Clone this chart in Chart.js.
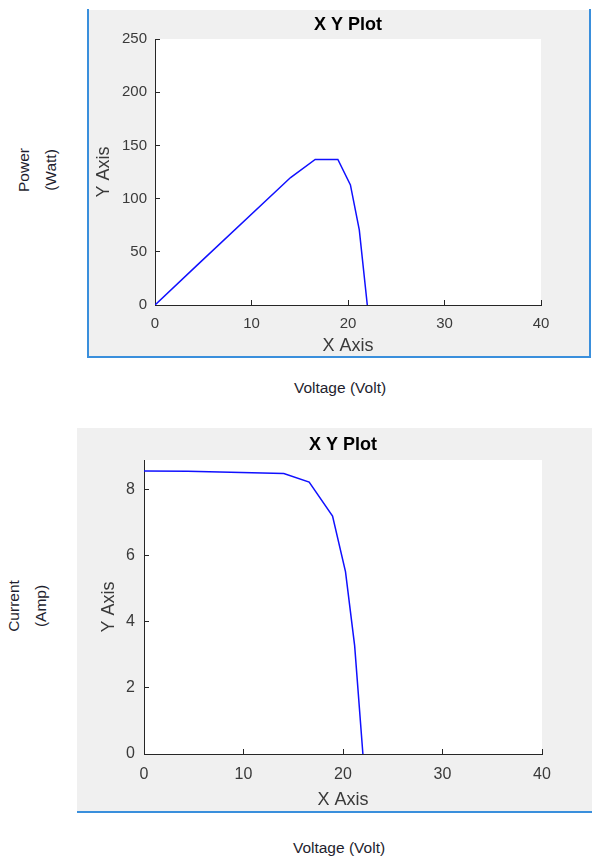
<!DOCTYPE html>
<html>
<head>
<meta charset="utf-8">
<script src="https://cdn.jsdelivr.net/npm/chart.js@4.4.0/dist/chart.umd.min.js"></script>
<style>
    body {
        margin: 0;
        background: #ffffff;
        width: 592px;
        height: 857px;
        position: relative;
        overflow: hidden;
        font-family: "Liberation Sans", Arial, sans-serif;
    }
    .panel {
        position: absolute;
        background: #f0f0f0;
    }
    .line {
        position: absolute;
        background: #3a8fdc;
    }
    .side {
        position: absolute;
        transform: translate(-50%, -50%) rotate(-90deg);
        text-align: center;
        font-size: 15.5px;
        line-height: 27px;
        color: #1e1e2e;
        white-space: nowrap;
    }
    .under {
        position: absolute;
        transform: translate(-50%, -50%);
        font-size: 15.5px;
        color: #1e1e2e;
        white-space: nowrap;
    }
</style>
</head>
<body>
    <div class="panel" style="left:88px; top:10px; width:502px; height:347px;">
        <canvas id="powerChart"></canvas>
    </div>
    <div class="line" style="left:87px; top:9px; width:2px; height:349px;"></div>
    <div class="line" style="left:589px; top:9px; width:2px; height:349px;"></div>
    <div class="line" style="left:87px; top:356px; width:504px; height:2px;"></div>

    <div class="panel" style="left:77px; top:428px; width:515px; height:384px;">
        <canvas id="currentChart"></canvas>
    </div>
    <div class="line" style="left:77px; top:811px; width:515px; height:2px;"></div>

    <div class="side" style="left:37px; top:170px;">Power<br>(Watt)</div>
    <div class="under" style="left:340px; top:388px;">Voltage (Volt)</div>
    <div class="side" style="left:27px; top:606px;">Current<br>(Amp)</div>
    <div class="under" style="left:339px; top:848px;">Voltage (Volt)</div>

<script>
    // values
    const volts = [0, 4.4, 14.05, 16.6, 18.95, 20.25, 21.17, 22.0];
    const power = [0, 37.7, 119.8, 136.8, 136.8, 112.9, 70.6, 0];
    const current = [8.57, 8.56, 8.49, 8.23, 7.2, 5.52, 3.28, 0];

    const xTicks = [0, 10, 20, 30, 40];
    const powerTicks = [0, 50, 100, 150, 200, 250];
    const currentTicks = [0, 2, 4, 6, 8];

    const fontFamily = '"Liberation Sans", Arial, sans-serif';
    const axisColor = '#262626';

    // white plot box on the grey figure
    const plotBox = {
        id: 'plotBox',
        beforeDraw(chart) {
            const a = chart.chartArea;
            chart.ctx.save();
            chart.ctx.fillStyle = '#ffffff';
            chart.ctx.fillRect(a.left, a.top, a.right - a.left, a.bottom - a.top);
            chart.ctx.restore();
        }
    };

    function toPoints(xs, ys) {
        return xs.map((x, i) => ({ x: x, y: ys[i] }));
    }

    function makeChart(id, ys, yMax, yTicks, m) {
        return new Chart(document.getElementById(id), {
            type: 'scatter',
            data: {
                datasets: [{
                    data: toPoints(volts, ys),
                    showLine: true,
                    borderColor: '#1010ff',
                    borderWidth: 1.5,
                    pointRadius: 0,
                    fill: false,
                    tension: 0
                }]
            },
            plugins: [plotBox],
            options: {
                responsive: true,
                maintainAspectRatio: false,
                animation: false,
                events: [],
                layout: {
                    padding: { left: 0, right: m.right, top: 0, bottom: 0 }
                },
                plugins: {
                    legend: { display: false },
                    tooltip: { enabled: false },
                    title: {
                        display: true,
                        fullSize: false,
                        text: 'X Y Plot',
                        color: '#000000',
                        font: { family: fontFamily, size: 18, weight: 'bold' },
                        padding: { top: m.titleTop, bottom: m.titleBottom }
                    }
                },
                scales: {
                    x: {
                        type: 'linear',
                        min: 0,
                        max: 40,
                        afterBuildTicks: scale => { scale.ticks = xTicks.map(v => ({ value: v })); },
                        afterFit: scale => { scale.height = m.bottom; },
                        grid: {
                            drawOnChartArea: false,
                            drawTicks: true,
                            tickLength: -5,
                            color: axisColor
                        },
                        border: { color: axisColor, width: 1 },
                        ticks: {
                            color: '#3a3a3a',
                            padding: m.xPad,
                            maxRotation: 0,
                            autoSkip: false,
                            font: { family: fontFamily, size: m.tickSize }
                        },
                        title: {
                            display: true,
                            text: 'X Axis',
                            color: '#3a3a3a',
                            font: { family: fontFamily, size: 18 },
                            padding: { top: 0, bottom: m.xTitle }
                        }
                    },
                    y: {
                        type: 'linear',
                        min: 0,
                        max: yMax,
                        afterBuildTicks: scale => { scale.ticks = yTicks.map(v => ({ value: v })); },
                        afterFit: scale => { scale.width = m.left; },
                        grid: {
                            drawOnChartArea: false,
                            drawTicks: true,
                            tickLength: -5,
                            color: axisColor
                        },
                        border: { color: axisColor, width: 1 },
                        ticks: {
                            color: '#3a3a3a',
                            padding: m.yPad,
                            autoSkip: false,
                            font: { family: fontFamily, size: m.tickSize }
                        },
                        title: {
                            display: true,
                            text: 'Y Axis',
                            color: '#3a3a3a',
                            font: { family: fontFamily, size: 18 },
                            padding: { top: m.yTitle, bottom: 0 }
                        }
                    }
                }
            }
        });
    }

    makeChart('powerChart', power, 250, powerTicks, {
        left: 67, right: 49, bottom: 52,
        titleTop: 4.5, titleBottom: 2.9,
        xPad: 15, yPad: 13, xTitle: 0, yTitle: 5.2, tickSize: 15
    });

    makeChart('currentChart', current, 8.9, currentTicks, {
        left: 67, right: 50, bottom: 58,
        titleTop: 6.5, titleBottom: 3.9,
        xPad: 16, yPad: 14, xTitle: 1.2, yTitle: 21.2, tickSize: 16
    });
</script>
</body>
</html>
